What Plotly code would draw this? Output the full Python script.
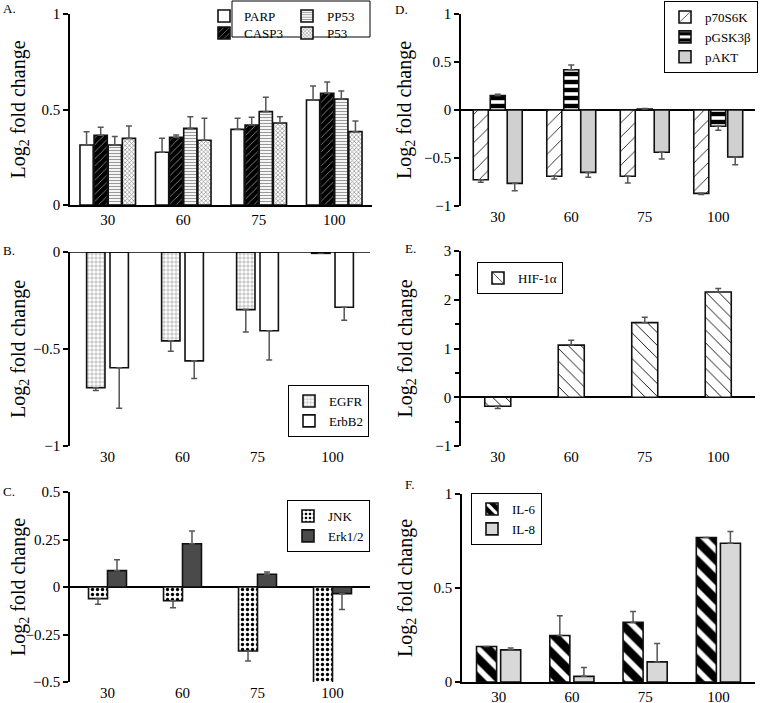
import plotly.graph_objects as go

# ---------------- data ----------------
doses = ["30", "60", "75", "100"]

# Panel A
parp = [0.314, 0.276, 0.396, 0.550]
parp_err = [0.070, 0.073, 0.058, 0.073]
casp3 = [0.365, 0.354, 0.419, 0.585]
casp3_err = [0.042, 0.012, 0.040, 0.059]
pp53 = [0.314, 0.401, 0.489, 0.555]
pp53_err = [0.044, 0.061, 0.075, 0.042]
p53 = [0.349, 0.339, 0.429, 0.384]
p53_err = [0.065, 0.115, 0.033, 0.056]

# Panel D
p70s6k = [-0.726, -0.690, -0.690, -0.868]
p70s6k_err = [0.027, 0.030, 0.070, 0.012]
pgsk3b = [0.150, 0.420, 0.010, -0.170]
pgsk3b_err = [0.013, 0.050, 0.005, 0.040]
pakt = [-0.764, -0.650, -0.440, -0.490]
pakt_err = [0.076, 0.050, 0.070, 0.080]

# Panel B
egfr = [-0.700, -0.458, -0.297, -0.007]
egfr_err = [0.014, 0.053, 0.115, 0.0]
erbb2 = [-0.597, -0.561, -0.406, -0.285]
erbb2_err = [0.209, 0.091, 0.151, 0.067]

# Panel E
hif1a = [-0.185, 1.070, 1.530, 2.160]
hif1a_err = [0.045, 0.100, 0.110, 0.070]

# Panel C
jnk = [-0.061, -0.072, -0.337, -0.505]
jnk_err = [0.030, 0.037, 0.052, 0.014]
erk = [0.086, 0.228, 0.067, -0.035]
erk_err = [0.058, 0.067, 0.012, 0.084]

# Panel F
il6 = [0.189, 0.247, 0.317, 0.769]
il6_err = [0.0, 0.105, 0.058, 0.0]
il8 = [0.171, 0.030, 0.107, 0.738]
il8_err = [0.010, 0.047, 0.098, 0.062]

# ---------------- styling ----------------
W, H = 765, 703
FONT = "Times New Roman, Liberation Serif, DejaVu Serif, serif"


def px_x(p):
    return p / W


def px_y(p):
    return 1 - p / H


def err_dict(vals, errs):
    up = [e if v >= 0 else 0 for v, e in zip(vals, errs)]
    dn = [e if v < 0 else 0 for v, e in zip(vals, errs)]
    return dict(type="data", symmetric=False, array=up, arrayminus=dn,
                color="#555555", thickness=1.5, width=3)


def add_panel(fig, idx, series, bar_w, gap):
    n = len(series)
    total = n * bar_w + (n - 1) * gap
    for k, s in enumerate(series):
        pattern = s.get("pattern")
        marker = dict(color=s["color"], line=dict(color="#111111", width=1.6))
        if pattern:
            marker["pattern"] = pattern
        fig.add_trace(go.Bar(
            x=doses, y=s["y"], name=s["name"],
            width=bar_w, offset=-total / 2 + k * (bar_w + gap),
            marker=marker, error_y=err_dict(s["y"], s["err"]),
            cliponaxis=False,
            xaxis="x" + ("" if idx == 1 else str(idx)),
            yaxis="y" + ("" if idx == 1 else str(idx)),
            legend=s["legend"], legendrank=s.get("rank", 1000),
        ))


fig = go.Figure()

# A
add_panel(fig, 1, [
    dict(name="PARP", y=parp, err=parp_err, color="white", legend="legend", rank=1),
    dict(name="CASP3", y=casp3, err=casp3_err, color="black", legend="legend2", rank=3,
         pattern=dict(shape="/", fgcolor="#a0a0a0", bgcolor="black", size=5,
                      solidity=0.15, fgopacity=1)),
    dict(name="PP53", y=pp53, err=pp53_err, color="white", legend="legend", rank=2,
         pattern=dict(shape="-", fgcolor="#999999", bgcolor="white", size=3,
                      solidity=0.4, fgopacity=1)),
    dict(name="P53", y=p53, err=p53_err, color="white", legend="legend2", rank=4,
         pattern=dict(shape="x", fgcolor="#888888", bgcolor="white", size=3,
                      solidity=0.4, fgopacity=1)),
], 0.175, 0.012)

# D
add_panel(fig, 2, [
    dict(name="p70S6K", y=p70s6k, err=p70s6k_err, color="white", legend="legend3",
         pattern=dict(shape="/", fgcolor="black", bgcolor="white", size=10,
                      solidity=0.08, fgopacity=1)),
    dict(name="pGSK3β", y=pgsk3b, err=pgsk3b_err, color="white", legend="legend3",
         pattern=dict(shape="-", fgcolor="black", bgcolor="white", size=8,
                      solidity=0.55, fgopacity=1)),
    dict(name="pAKT", y=pakt, err=pakt_err, color="#d0d0d0", legend="legend3"),
], 0.204, 0.027)

# B
add_panel(fig, 3, [
    dict(name="EGFR", y=egfr, err=egfr_err, color="white", legend="legend4",
         pattern=dict(shape="+", fgcolor="#444444", bgcolor="white", size=4,
                      solidity=0.15, fgopacity=1)),
    dict(name="ErbB2", y=erbb2, err=erbb2_err, color="white", legend="legend4"),
], 0.245, 0.067)

# E
add_panel(fig, 4, [
    dict(name="HIF-1α", y=hif1a, err=hif1a_err, color="white", legend="legend5",
         pattern=dict(shape="\\", fgcolor="black", bgcolor="white", size=9,
                      solidity=0.1, fgopacity=1)),
], 0.354, 0.0)

# C
add_panel(fig, 5, [
    dict(name="JNK", y=jnk, err=jnk_err, color="white", legend="legend6",
         pattern=dict(shape=".", fgcolor="black", bgcolor="white", size=5,
                      solidity=0.35, fgopacity=1)),
    dict(name="Erk1/2", y=erk, err=erk_err, color="#4a4a4a", legend="legend6"),
], 0.253, 0.0)

# F
add_panel(fig, 6, [
    dict(name="IL-6", y=il6, err=il6_err, color="black", legend="legend7",
         pattern=dict(shape="\\", fgcolor="white", bgcolor="black", size=14,
                      solidity=0.4, fgopacity=1)),
    dict(name="IL-8", y=il8, err=il8_err, color="#d8d8d8", legend="legend7"),
], 0.274, 0.055)

# ---------------- axes ----------------
panels = {
    1: dict(x=(70, 372), y=(14, 205), rng=[0, 1], dtick=0.5, bottomline=True, zl=False),
    2: dict(x=(461, 755), y=(14, 206), rng=[-1, 1], dtick=0.5, bottomline=False, zl=True),
    3: dict(x=(70, 370), y=(252, 446), rng=[-1, 0], dtick=0.5, bottomline=False, zl=False),
    4: dict(x=(461, 755), y=(251, 446), rng=[-1, 3], dtick=1, bottomline=False, zl=True, minor=0.5),
    5: dict(x=(70, 370), y=(492, 682), rng=[-0.5, 0.5], dtick=0.25, bottomline=False, zl=True),
    6: dict(x=(462, 755), y=(494, 682), rng=[0, 1], dtick=0.5, bottomline=True, zl=False),
}

layout = dict(
    width=W, height=H, margin=dict(l=0, r=0, t=0, b=0, autoexpand=False),
    paper_bgcolor="white", plot_bgcolor="rgba(0,0,0,0)",
    barmode="overlay", font=dict(family=FONT, size=15, color="black"),
    shapes=[], annotations=[],
)

for i, p in panels.items():
    sx = "" if i == 1 else str(i)
    layout["xaxis" + sx] = dict(
        domain=[px_x(p["x"][0]), px_x(p["x"][1])], anchor="y" + sx,
        showline=p["bottomline"], linecolor="black", linewidth=1.5,
        ticks="", showgrid=False, zeroline=False, range=[-0.5, 3.5],
        automargin=False,
        tickfont=dict(family=FONT, size=15, color="black"), fixedrange=True,
    )
    yax = dict(
        domain=[px_y(p["y"][1]), px_y(p["y"][0])], anchor="x" + sx,
        range=p["rng"], dtick=p["dtick"], tick0=0, automargin=False,
        showline=True, linecolor="black", linewidth=1.5,
        ticks="outside", ticklen=5, tickwidth=1.5, tickcolor="black",
        showgrid=False, zeroline=p["zl"], zerolinecolor="black", zerolinewidth=1.5,
        tickfont=dict(family=FONT, size=15, color="black"), fixedrange=True,
    )
    if p.get("minor"):
        yax["minor"] = dict(dtick=p["minor"], ticks="outside", ticklen=4,
                            tickwidth=1.5, tickcolor="black")
    layout["yaxis" + sx] = yax
    # y-axis title
    title_x = 19 if p["x"][0] < 200 else 406
    layout["annotations"].append(dict(
        text="Log<sub>2</sub> fold change", textangle=-90,
        x=px_x(title_x), y=px_y((p["y"][0] + p["y"][1]) / 2),
        xref="paper", yref="paper", xanchor="center", yanchor="middle",
        showarrow=False, font=dict(family=FONT, size=20, color="black"),
    ))

# zero line at top of panel B
layout["shapes"].append(dict(type="line", xref="x3 domain", yref="y3",
                             x0=0, x1=1, y0=0, y1=0,
                             line=dict(color="black", width=1.5)))
# frame around the two-row legend of panel A
layout["shapes"].append(dict(type="rect", xref="paper", yref="paper",
                             x0=px_x(232), x1=px_x(370), y0=px_y(37), y1=px_y(1),
                             line=dict(color="black", width=1), fillcolor="white",
                             layer="above"))

# panel letters
for lab, xx, yy in [("A.", 9, 9), ("D.", 401, 10), ("B.", 9, 250),
                    ("E.", 410, 248), ("C.", 9, 491), ("F.", 409, 484)]:
    layout["annotations"].append(dict(
        text=lab, x=px_x(xx), y=px_y(yy), xref="paper", yref="paper",
        xanchor="center", yanchor="middle", showarrow=False,
        font=dict(family=FONT, size=13, color="black")))

leg_font = dict(family=FONT, size=13, color="black")
box = dict(bordercolor="black", borderwidth=1, bgcolor="white", font=leg_font,
           itemwidth=30, tracegroupgap=0)

layout["legend"] = dict(orientation="h", x=px_x(370), xanchor="right", y=px_y(1), yanchor="top",
                        bgcolor="rgba(0,0,0,0)", borderwidth=0, font=leg_font,
                        entrywidth=38, itemwidth=30)
layout["legend2"] = dict(orientation="h", x=px_x(370), xanchor="right", y=px_y(18), yanchor="top",
                         bgcolor="rgba(0,0,0,0)", borderwidth=0, font=leg_font,
                         entrywidth=38, itemwidth=30)
layout["legend3"] = dict(box, x=px_x(758), xanchor="right", y=px_y(1), yanchor="top")
layout["legend4"] = dict(box, x=px_x(369), xanchor="right", y=px_y(437), yanchor="bottom")
layout["legend5"] = dict(box, x=px_x(477), xanchor="left", y=px_y(262), yanchor="top")
layout["legend6"] = dict(box, x=px_x(370), xanchor="right", y=px_y(500), yanchor="top")
layout["legend7"] = dict(box, x=px_x(471), xanchor="left", y=px_y(493), yanchor="top")

fig.update_layout(**layout)
fig.write_html("out.html",
               config={"displayModeBar": False},
               post_script="document.body.style.margin='0';document.body.style.overflow='hidden';")
